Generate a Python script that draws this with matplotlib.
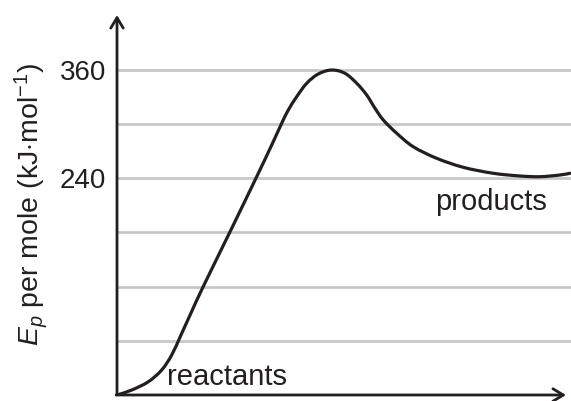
import matplotlib
matplotlib.use("Agg")
import matplotlib.pyplot as plt
from matplotlib.path import Path
from matplotlib.patches import PathPatch

plt.rcParams["font.family"] = ["Liberation Sans", "DejaVu Sans"]
plt.rcParams["mathtext.fontset"] = "custom"
plt.rcParams["mathtext.rm"] = "Liberation Sans"
plt.rcParams["mathtext.it"] = "Liberation Sans:italic"

# Reaction coordinate (arbitrary units) and potential energy per mole (kJ/mol)
reaction_coord = [0.0, 3.27, 6.96, 9.93, 12.16, 14.22, 16.44, 19.11, 25.49,
                  31.04, 34.38, 36.6, 38.07, 39.93, 42.16, 44.73, 47.71, 50.67,
                  53.27, 55.49, 57.33, 59.18, 62.16, 65.84, 71.04, 76.96,
                  83.62, 89.56, 94.0, 98.44, 100.67]
energy = [0.0, 5.5, 14.7, 27.7, 44.3, 66.5, 90.8, 119.6, 184.6, 241.8, 276.9,
          301.0, 315.7, 330.4, 345.3, 355.6, 360.0, 356.3, 345.3, 332.3, 317.6,
          304.6, 289.9, 275.0, 262.2, 252.2, 245.6, 242.6, 241.8, 243.7, 245.6]

grid_levels = [60, 120, 180, 240, 300, 360]
tick_values = [240, 360]
tick_labels = ["240", "360"]

ink = "#231f20"
grid_col = "#c8c8c8"


def smooth_path(xs, ys):
    """Cubic Bezier path passing through every (x, y) point (Catmull-Rom)."""
    pts = list(zip(xs, ys))
    verts = [pts[0]]
    codes = [Path.MOVETO]
    n = len(pts)
    for i in range(n - 1):
        p0 = pts[i - 1] if i > 0 else pts[i]
        p1 = pts[i]
        p2 = pts[i + 1]
        p3 = pts[i + 2] if i + 2 < n else pts[i + 1]
        c1 = (p1[0] + (p2[0] - p0[0]) / 6, p1[1] + (p2[1] - p0[1]) / 6)
        c2 = (p2[0] - (p3[0] - p1[0]) / 6, p2[1] - (p3[1] - p1[1]) / 6)
        verts += [c1, c2, p2]
        codes += [Path.CURVE4] * 3
    return Path(verts, codes)


W, H = 571, 401
fig = plt.figure(figsize=(W / 100, H / 100), dpi=100)
x0, y0, x1, y1 = 117, 395, 571, 15
ax = fig.add_axes([x0 / W, (H - y0) / H, (x1 - x0) / W, (y0 - y1) / H])
ax.set_xlim(0, (x1 - x0) / 4.5)
ax.set_ylim(0, (y0 - y1) / (325 / 360))

for lvl in grid_levels:
    ax.axhline(lvl, color=grid_col, lw=2.0, zorder=1)

ax.add_patch(PathPatch(smooth_path(reaction_coord, energy), facecolor="none",
                       edgecolor=ink, lw=2.3, capstyle="round",
                       joinstyle="round", zorder=3))

for s in ax.spines.values():
    s.set_visible(False)
ax.set_xticks([])
ax.set_yticks(tick_values)
ax.set_yticklabels(tick_labels, fontsize=20, color=ink)
ax.tick_params(axis="y", length=0, pad=8)

arrow = dict(arrowstyle="->,head_length=0.75,head_width=0.45", lw=2.0,
             color=ink, shrinkA=0, shrinkB=0, mutation_scale=10)
ax.annotate("", xy=(0, 1.0), xytext=(0, 0), xycoords="axes fraction",
            textcoords="axes fraction", arrowprops=arrow, annotation_clip=False)
ax.annotate("", xy=(0.989, 0), xytext=(-0.002, 0), xycoords="axes fraction",
            textcoords="axes fraction", arrowprops=arrow, annotation_clip=False)

ax.text(11.1, 11, "reactants", fontsize=21, color=ink, ha="left",
        va="baseline")
ax.text(70.7, 205, "products", fontsize=21, color=ink, ha="left",
        va="baseline")

fig.text(31 / W, 1 - 205 / H, r"$E_p$ per mole (kJ$\cdot$mol$^{-1}$)",
         rotation=90, ha="center", va="center", fontsize=20.5, color=ink)

fig.savefig("out.png", dpi=100)
